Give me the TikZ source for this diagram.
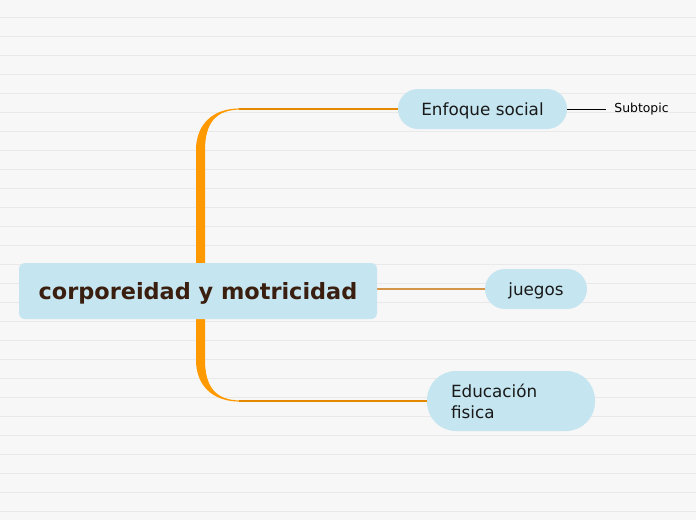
\documentclass[tikz,border=0pt]{standalone}
\usepackage{fontspec}
\setmainfont{DejaVu Sans}
\usepackage{tikz}
\usetikzlibrary{calc,positioning,backgrounds}
\definecolor{paper}{HTML}{F7F7F7}
\definecolor{rule}{HTML}{E9E9E9}
\definecolor{topicblue}{HTML}{C5E5F0}
\definecolor{branch}{HTML}{FF9900}
\definecolor{thinbranch}{HTML}{D4954A}
\definecolor{rootink}{HTML}{3A1F10}

\begin{document}
\begin{tikzpicture}[x=1pt,y=-1pt]
		\tikzstyle{root}=[rectangle, rounded corners=6pt, fill=topicblue, minimum width=358pt, minimum height=56pt, text=rootink, font=\fontsize{22.4}{26}\selectfont\bfseries]
		\tikzstyle{topic}=[rectangle, rounded corners=20pt, fill=topicblue, minimum height=40pt, text=black!90, font=\fontsize{16.8}{21}\selectfont]
		\tikzstyle{connect}=[branch!90!black, line width=1.2pt]
		\tikzstyle{sub}=[black, line width=0.7pt]
		\useasboundingbox (0,0) rectangle (696,520);
		
		\node[root, text depth=0.05em] (root) at (198,291) {corporeidad y motricidad};
		
		\node[topic, minimum width=169pt, text depth=0.05em] (enfoque) at (482.5,109) {Enfoque social};
		\node[topic, minimum width=102pt, text depth=0.05em] (juegos) at (536,289) {juegos};
		\node[topic, rounded corners=29pt, minimum width=168pt, minimum height=60pt, text width=120pt, inner xsep=24pt, align=left] (edfisica) at (511,401) {Educación\\fisica};
		
		\node[font=\fontsize{12.4}{15}\selectfont, inner sep=2pt] (subtopic) [right=45pt of enfoque] {Subtopic};
		
		\coordinate (bendup) at (root.center |- enfoque.west);
		\coordinate (benddown) at (root.center |- edfisica.west);
		
		\begin{scope}[on background layer]
		% paper
		\fill[paper] (0,0) rectangle (696,520);
		\foreach \k in {0,...,26}
			\draw[rule, line width=1pt] (0,17+19*\k) -- (696,17+19*\k);
		% trunk
		\fill[branch] ($(bendup)+(-2,41)$) .. controls ($(bendup)+(-2,16)$) and ($(bendup)+(14,-0.6)$) .. ($(bendup)+(42,-0.6)$)
			-- ($(bendup)+(42,0.6)$) .. controls ($(bendup)+(18,0.6)$) and ($(bendup)+(7,14)$) .. ($(bendup)+(7,41)$) -- ($(benddown)+(7,-41)$)
			.. controls ($(benddown)+(7,-14)$) and ($(benddown)+(18,-0.6)$) .. ($(benddown)+(42,-0.6)$)
			-- ($(benddown)+(42,0.6)$) .. controls ($(benddown)+(14,0.6)$) and ($(benddown)+(-2,-16)$) .. ($(benddown)+(-2,-41)$) -- cycle;
		\draw[connect] ($(bendup)+(41,0)$) -- (enfoque.west);
		\draw[connect] ($(benddown)+(41,0)$) -- (edfisica.west);
		\draw[thinbranch, line width=1.1pt] (root.east |- juegos.west) -- (juegos.west);
		\end{scope}
		
		\path (enfoque.east) edge [sub] ($(subtopic.west)+(-6,0)$);
	\end{tikzpicture}
\end{document}
